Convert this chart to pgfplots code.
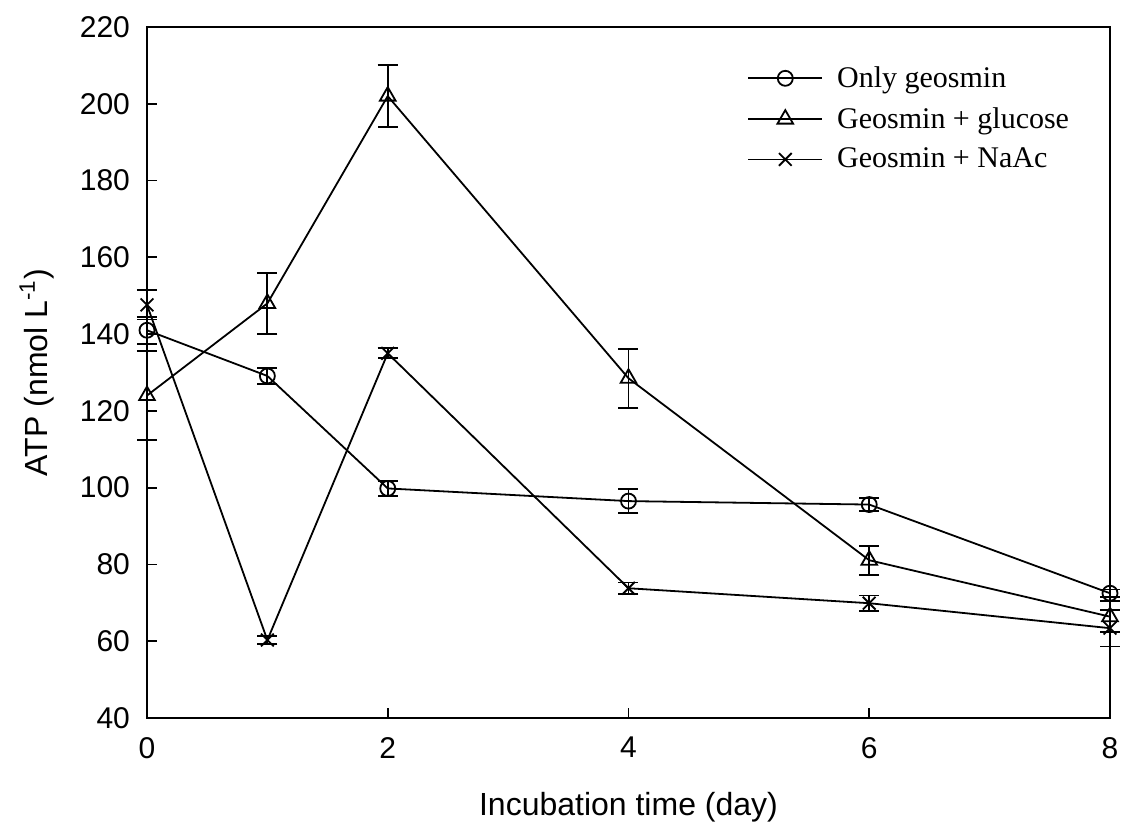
\documentclass[border=0pt]{standalone}
\usepackage{fontspec}
\setmainfont{Liberation Serif}
\newfontfamily\arial{Liberation Sans}
\usepackage{pgfplots}
\pgfplotsset{compat=1.18}
\begin{document}
\begin{tikzpicture}
\begin{axis}[
  at={(0,0)}, anchor=south west,
  scale only axis, width=481.5pt, height=345.5pt,
  xmin=0, xmax=8, ymin=40, ymax=220,
  xtick={0,2,4,6,8}, ytick={40,60,...,220},
  xtick pos=bottom, ytick pos=left, tick align=inside,
  major tick length=5pt,
  axis line style={line width=0.9pt}, every tick/.style={line width=0.9pt,black},
  /pgf/number format/assume math mode=true,
  ticklabel style={font=\arial\fontsize{15}{18}\selectfont},
  yticklabel style={xshift=-5pt},
  xticklabel style={yshift=-6pt},
  xlabel={Incubation time (day)},
  ylabel={ATP (nmol L\textsuperscript{-1})},
  label style={font=\arial\fontsize{16}{19}\selectfont},
  xlabel style={yshift=-10pt},
  ylabel style={yshift=6pt},
  clip=false,
  legend style={draw=none, fill=none, at={(300pt,328pt)}, anchor=north west,
    font=\fontsize{15}{18}\selectfont, row sep=4.5pt, inner sep=0pt},
  legend cell align=left,
  legend image code/.code={\draw[mark repeat=2,mark phase=2,#1] plot coordinates {(0pt,0pt) (18.5pt,0pt) (37pt,0pt)};\path (42pt,0pt);},
]
\addplot[black, line width=0.9pt, mark=o, mark size=3.75pt, mark options={solid, fill=none, line width=0.9pt},
  error bars/.cd, y dir=both, y explicit,
  error bar style={line width=0.9pt}, error mark options={rotate=90, mark size=5pt, line width=0.9pt}]
  table[x=x, y=y, y error=e] {
x y e
0 141.0 3.5
1 129.1 2.0
2 99.8 2.0
4 96.5 3.2
6 95.6 1.7
8 72.5 1.0
};
\addlegendentry{Only geosmin}
\addplot[black, line width=0.9pt, mark=triangle, mark size=4.5pt, mark options={solid, fill=none, line width=0.9pt},
  error bars/.cd, y dir=both, y explicit,
  error bar style={line width=0.9pt}, error mark options={rotate=90, mark size=5pt, line width=0.9pt}]
  table[x=x, y=y, y error=e] {
x y e
0 124.0 11.5
1 148.0 8.0
2 202.0 8.0
4 128.5 7.7
6 81.1 3.8
8 66.4 4.0
};
\addlegendentry{Geosmin + glucose}
\addplot[black, line width=0.9pt, mark=x, mark size=4.5pt, mark options={solid, fill=none, line width=0.9pt},
  error bars/.cd, y dir=both, y explicit,
  error bar style={line width=0.9pt}, error mark options={rotate=90, mark size=5pt, line width=0.9pt}]
  table[x=x, y=y, y error=e] {
x y e
0 147.6 3.8
1 60.3 1.0
2 135.0 1.3
4 73.8 1.5
6 69.9 2.0
8 63.4 4.8
};
\addlegendentry{Geosmin + NaAc}
\end{axis}
\pgfresetboundingbox
\path[use as bounding box] (-73.5pt,-57pt) rectangle (487pt,359pt);
\end{tikzpicture}
\end{document}
